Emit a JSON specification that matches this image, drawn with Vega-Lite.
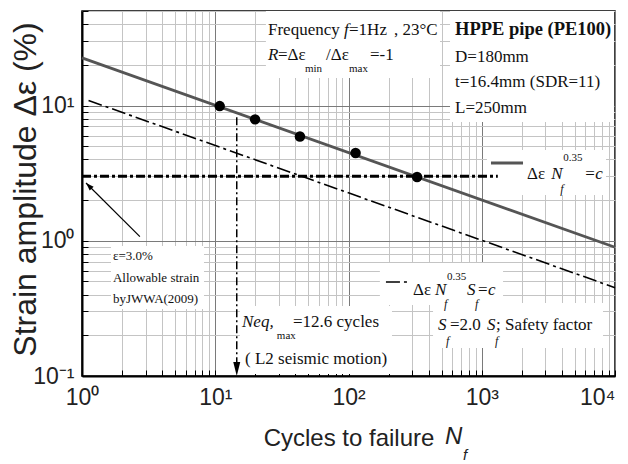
{
  "$schema": "https://vega.github.io/schema/vega-lite/v6.json",
  "width": 533,
  "height": 365,
  "autosize": {"type": "none"},
  "padding": {"left": 82, "top": 11, "right": 13, "bottom": 88},
  "background": "white",
  "config": {
    "view": {"stroke": "black", "strokeWidth": 1.5},
    "axis": {
      "domainColor": "black",
      "domainWidth": 2,
      "tickColor": "black",
      "tickSize": -6,
      "tickWidth": 1,
      "labelFont": "Liberation Sans",
      "labelFontSize": 23,
      "labelColor": "#222",
      "titleFont": "Liberation Sans",
      "titleFontWeight": "normal",
      "titleColor": "#222",
      "labelOverlap": false,
      "labelFlush": false,
      "gridWidth": 1,
      "gridColor": {"condition": {"test": "indexof([0.1,1,10,100,1000,10000], datum.value) >= 0", "value": "#7a7a7a"}, "value": "#c4c4c4"}
    }
  },
  "datasets": {
    "boxes": [
      {"x": 24.0, "xe": 486, "y": 50, "ye": 16.0},
      {"x": 578, "xe": 9820, "y": 50, "ye": 7.56},
      {"x": 1094, "xe": 8560, "y": 4.69, "ye": 2.18},
      {"x": 1.65, "xe": 8.23, "y": 0.915, "ye": 0.313},
      {"x": 15.3, "xe": 212, "y": 0.33, "ye": 0.1035},
      {"x": 172, "xe": 1445, "y": 0.685, "ye": 0.335},
      {"x": 431, "xe": 8130, "y": 0.347, "ye": 0.161}
    ],
    "lines": [
      {"s": "fit", "x": 1, "y": 22.5},
      {"s": "fit", "x": 10000, "y": 0.896},
      {"s": "safety", "x": 1.12, "y": 10.9},
      {"s": "safety", "x": 10000, "y": 0.45},
      {"s": "allow", "x": 1, "y": 3.0},
      {"s": "allow", "x": 1320, "y": 3.0},
      {"s": "neq", "x": 14.5, "y": 8.2},
      {"s": "neq", "x": 14.5, "y": 0.12},
      {"s": "arrow", "x": 2.72, "y": 1.072},
      {"s": "arrow", "x": 1.072, "y": 2.676},
      {"s": "leg1", "x": 1173, "y": 3.76},
      {"s": "leg1", "x": 2040, "y": 3.76},
      {"s": "leg2", "x": 191, "y": 0.496},
      {"s": "leg2", "x": 290, "y": 0.496}
    ],
    "pts": [
      {"x": 10.8, "y": 9.9},
      {"x": 19.9, "y": 7.9},
      {"x": 43.2, "y": 5.9},
      {"x": 113, "y": 4.45},
      {"x": 327, "y": 2.96}
    ],
    "headDown": [{"x": 14.5, "y": 0.1}],
    "headUL": [{"x": 1.072, "y": 2.676}],
    "txtNormal": [
      {"x": 24.88, "y": 36.24, "t": "Frequency"},
      {"x": 100.9, "y": 36.24, "t": "=1Hz"},
      {"x": 219.5, "y": 36.24, "t": ", 23°C"},
      {"x": 29.57, "y": 23.67, "t": "=Δε"},
      {"x": 67.8, "y": 23.67, "t": "/Δε"},
      {"x": 145.0, "y": 23.67, "t": "=-1"},
      {"x": 630, "y": 22.88, "t": "D=180mm"},
      {"x": 630, "y": 14.95, "t": "t=16.4mm (SDR=11)"},
      {"x": 630, "y": 9.60, "t": "L=250mm"},
      {"x": 2186, "y": 3.119, "t": "Δε"},
      {"x": 5990, "y": 3.119, "t": "="},
      {"x": 38.3, "y": 0.2507, "t": "=12.6 cycles"},
      {"x": 16.72, "y": 0.1336, "t": "( L2 seismic motion)"},
      {"x": 304.9, "y": 0.4326, "t": "Δε"},
      {"x": 937, "y": 0.4326, "t": "="},
      {"x": 577.5, "y": 0.2384, "t": "=2.0"},
      {"x": 1279, "y": 0.2384, "t": "; Safety factor"}
    ],
    "txtItalic": [
      {"x": 92.5, "y": 36.24, "t": "f"},
      {"x": 24.88, "y": 23.67, "t": "R"},
      {"x": 3320, "y": 3.119, "t": "N"},
      {"x": 7120, "y": 3.119, "t": "c"},
      {"x": 15.88, "y": 0.2507, "t": "Neq,"},
      {"x": 446, "y": 0.4326, "t": "N"},
      {"x": 775, "y": 0.4326, "t": "S"},
      {"x": 1115, "y": 0.4326, "t": "c"},
      {"x": 469.6, "y": 0.2384, "t": "S"},
      {"x": 1095, "y": 0.2384, "t": "S"}
    ],
    "txtSub": [
      {"x": 47.16, "y": 18.65, "t": "min"},
      {"x": 100.9, "y": 18.65, "t": "max"},
      {"x": 4090, "y": 4.097, "t": "0.35"},
      {"x": 29.0, "y": 0.1975, "t": "max"},
      {"x": 548, "y": 0.5399, "t": "0.35"}
    ],
    "txtSubItalic": [
      {"x": 3880, "y": 2.40, "t": "f"},
      {"x": 520, "y": 0.340, "t": "f"},
      {"x": 890, "y": 0.340, "t": "f"},
      {"x": 539.2, "y": 0.1820, "t": "f"},
      {"x": 1257, "y": 0.1820, "t": "f"}
    ],
    "txtBold": [
      {"x": 630, "y": 36.86, "t": "HPPE pipe (PE100)"}
    ],
    "txtSmall": [
      {"x": 1.708, "y": 0.772, "t": "ε=3.0%"},
      {"x": 1.708, "y": 0.5307, "t": "Allowable strain"},
      {"x": 1.708, "y": 0.3711, "t": "byJWWA(2009)"}
    ],
    "titleN": [{"x": 530, "y": 0.03538, "t": "N"}],
    "titleF": [{"x": 723.4, "y": 0.0262, "t": "f"}]
  },
  "encoding": {
    "x": {
      "field": "x", "type": "quantitative",
      "scale": {"type": "log", "domain": [1, 10000], "nice": false},
      "axis": {
        "title": "Cycles to failure",
        "titleFontSize": 24,
        "titleY": 62,
        "titleBaseline": "middle",
        "labelPadding": 16,
        "labelAlign": {"condition": {"test": "datum.value == 10000", "value": "right"}, "value": "center"},
        "labelDx": {"condition": {"test": "datum.value == 10000", "value": 13}, "value": 0},
        "values": [1,2,3,4,5,6,7,8,9,10,20,30,40,50,60,70,80,90,100,200,300,400,500,600,700,800,900,1000,2000,3000,4000,5000,6000,7000,8000,9000,10000],
        "labelExpr": "datum.value==1?'10⁰':datum.value==10?'10¹':datum.value==100?'10²':datum.value==1000?'10³':datum.value==10000?'10⁴':''"
      }
    },
    "y": {
      "field": "y", "type": "quantitative",
      "scale": {"type": "log", "domain": [0.1, 50], "nice": false},
      "axis": {
        "title": "Strain amplitude Δε  (%)",
        "titleFontSize": 32,
        "titleX": -57,
        "titleY": 178,
        "titleAngle": -90,
        "titleAlign": "center",
        "titleBaseline": "middle",
        "labelPadding": 14,
        "values": [0.1,0.2,0.3,0.4,0.5,0.6,0.7,0.8,0.9,1,2,3,4,5,6,7,8,9,10,20,30,40,50],
        "labelExpr": "datum.value==0.1?'10⁻¹':datum.value==1?'10⁰':datum.value==10?'10¹':''"
      }
    }
  },
  "layer": [
    {
      "data": {"name": "boxes"},
      "mark": {"type": "rect", "fill": "white", "stroke": null},
      "encoding": {"x2": {"field": "xe"}, "y2": {"field": "ye"}}
    },
    {
      "data": {"name": "lines"},
      "transform": [{"filter": "datum.s == 'fit' || datum.s == 'leg1'"}],
      "mark": {"type": "line", "color": "#555555", "strokeWidth": 2.8},
      "encoding": {"detail": {"field": "s"}}
    },
    {
      "data": {"name": "lines"},
      "transform": [{"filter": "datum.s == 'safety' || datum.s == 'leg2'"}],
      "mark": {"type": "line", "color": "black", "strokeWidth": 1.6, "strokeDash": [14, 4, 3, 4]},
      "encoding": {"detail": {"field": "s"}}
    },
    {
      "data": {"name": "lines"},
      "transform": [{"filter": "datum.s == 'allow'"}],
      "mark": {"type": "line", "color": "black", "strokeWidth": 3, "strokeDash": [9, 3, 3, 3]},
      "encoding": {}
    },
    {
      "data": {"name": "lines"},
      "transform": [{"filter": "datum.s == 'neq'"}],
      "mark": {"type": "line", "color": "black", "strokeWidth": 1.5, "strokeDash": [8, 3, 2, 3]},
      "encoding": {}
    },
    {
      "data": {"name": "lines"},
      "transform": [{"filter": "datum.s == 'arrow'"}],
      "mark": {"type": "line", "color": "black", "strokeWidth": 1.2},
      "encoding": {}
    },
    {
      "data": {"name": "headDown"},
      "mark": {"type": "point", "shape": "M0,0L-0.25,-1L0.25,-1Z", "size": 784, "filled": true, "color": "black", "opacity": 1}
    },
    {
      "data": {"name": "headUL"},
      "mark": {"type": "point", "shape": "M0,0L-0.35,1L0.35,1Z", "size": 256, "filled": true, "color": "black", "opacity": 1, "angle": -45}
    },
    {
      "data": {"name": "pts"},
      "mark": {"type": "point", "shape": "circle", "size": 110, "filled": true, "color": "black", "opacity": 1}
    },
    {
      "data": {"name": "txtNormal"},
      "mark": {"type": "text", "font": "Liberation Serif", "fontSize": 17, "align": "left", "baseline": "middle", "color": "#111"},
      "encoding": {"text": {"field": "t"}}
    },
    {
      "data": {"name": "txtItalic"},
      "mark": {"type": "text", "font": "Liberation Serif", "fontSize": 17, "fontStyle": "italic", "align": "left", "baseline": "middle", "color": "#111"},
      "encoding": {"text": {"field": "t"}}
    },
    {
      "data": {"name": "txtSub"},
      "mark": {"type": "text", "font": "Liberation Serif", "fontSize": 11, "align": "left", "baseline": "middle", "color": "#111"},
      "encoding": {"text": {"field": "t"}}
    },
    {
      "data": {"name": "txtSubItalic"},
      "mark": {"type": "text", "font": "Liberation Serif", "fontSize": 12, "fontStyle": "italic", "align": "left", "baseline": "middle", "color": "#111"},
      "encoding": {"text": {"field": "t"}}
    },
    {
      "data": {"name": "txtBold"},
      "mark": {"type": "text", "font": "Liberation Serif", "fontSize": 18.5, "fontWeight": "bold", "align": "left", "baseline": "middle", "color": "#111"},
      "encoding": {"text": {"field": "t"}}
    },
    {
      "data": {"name": "txtSmall"},
      "mark": {"type": "text", "font": "Liberation Serif", "fontSize": 13, "align": "left", "baseline": "middle", "color": "#111"},
      "encoding": {"text": {"field": "t"}}
    },
    {
      "data": {"name": "titleN"},
      "mark": {"type": "text", "font": "Liberation Sans", "fontSize": 24, "fontStyle": "italic", "align": "left", "baseline": "middle", "color": "#222"},
      "encoding": {"text": {"field": "t"}}
    },
    {
      "data": {"name": "titleF"},
      "mark": {"type": "text", "font": "Liberation Sans", "fontSize": 15, "fontStyle": "italic", "align": "left", "baseline": "middle", "color": "#222"},
      "encoding": {"text": {"field": "t"}}
    }
  ]
}
